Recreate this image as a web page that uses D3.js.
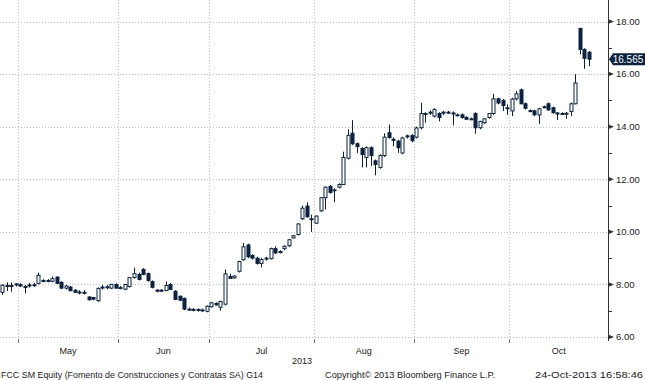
<!DOCTYPE html>
<html>
<head>
<meta charset="utf-8">
<script src="https://cdn.jsdelivr.net/npm/d3@7"></script>
<style>
  body { margin: 0; background: #fff; }
  svg { display: block; font-family: 'Liberation Sans', Arial, sans-serif; }
</style>
</head>
<body>
<svg id="chart" width="645" height="380"></svg>
<script>
'use strict'

// Month labels and axis ticks
var monthLabels = ['May', 'Jun', 'Jul', 'Aug', 'Sep', 'Oct']
var yearLabel = '2013'
var yTicks = [6, 8, 10, 12, 14, 16, 18]
var yMinor = [7, 9, 11, 13, 15, 17]
var lastPrice = 16.565
var footerLeft = 'FCC SM Equity (Fomento de Construcciones y Contratas SA) G14'
var footerMid = 'Copyright\u00a9 2013 Bloomberg Finance L.P.'
var footerRight = '24-Oct-2013 16:58:46'

// Daily candles [open, high, low, close], one list per month
var apr = [
  [7.70, 8.00, 7.60, 7.97], [7.93, 8.08, 7.75, 7.96], [7.96, 8.08, 7.72, 7.94], [7.98, 8.05, 7.92, 8.02]
]
var may = [
  [8.00, 8.04, 7.90, 7.94], [7.92, 7.98, 7.66, 7.90], [7.96, 8.05, 7.88, 7.98], [7.98, 8.06, 7.90, 7.99],
  [8.04, 8.45, 8.00, 8.35], [8.14, 8.20, 8.08, 8.15], [8.14, 8.20, 8.08, 8.15], [8.12, 8.30, 8.08, 8.22],
  [8.28, 8.30, 8.02, 8.04], [8.08, 8.12, 7.82, 7.86], [7.86, 7.98, 7.80, 7.94], [7.90, 7.94, 7.74, 7.76],
  [7.78, 7.82, 7.68, 7.70], [7.70, 7.78, 7.62, 7.71], [7.70, 7.78, 7.62, 7.69], [7.52, 7.56, 7.38, 7.42],
  [7.50, 7.52, 7.40, 7.44], [7.38, 7.88, 7.34, 7.85], [7.90, 7.98, 7.80, 7.90], [7.90, 7.98, 7.82, 7.91],
  [7.86, 8.02, 7.82, 8.00], [8.00, 8.04, 7.84, 7.86]
]
var jun = [
  [7.88, 7.94, 7.82, 7.88], [7.82, 8.02, 7.78, 8.00], [7.92, 8.28, 7.88, 8.26], [8.26, 8.64, 8.22, 8.41],
  [8.38, 8.45, 8.15, 8.19], [8.57, 8.62, 8.35, 8.38], [8.41, 8.45, 8.10, 8.15], [8.11, 8.15, 7.85, 7.89],
  [7.77, 7.82, 7.70, 7.78], [7.78, 7.82, 7.72, 7.76], [7.77, 8.11, 7.74, 7.96], [8.00, 8.05, 7.78, 7.81],
  [7.74, 7.78, 7.40, 7.43], [7.55, 7.58, 7.36, 7.40], [7.47, 7.50, 7.02, 7.06], [7.06, 7.12, 7.00, 7.05],
  [7.05, 7.10, 6.98, 7.04], [7.04, 7.08, 6.96, 7.05], [7.02, 7.08, 6.96, 7.03], [6.98, 7.20, 6.94, 7.17]
]
var jul = [
  [7.15, 7.34, 7.12, 7.30], [7.28, 7.32, 7.20, 7.22], [7.13, 7.38, 7.00, 7.35], [7.25, 8.57, 7.20, 8.40],
  [8.30, 8.40, 8.20, 8.23], [8.25, 8.35, 8.22, 8.32], [8.50, 8.90, 8.45, 8.87], [8.94, 9.58, 8.90, 9.43],
  [9.50, 9.55, 9.00, 9.05], [9.10, 9.15, 8.95, 9.00], [9.00, 9.05, 8.75, 8.80], [8.80, 9.00, 8.65, 8.95],
  [8.98, 9.05, 8.90, 9.00], [8.98, 9.40, 8.95, 9.36], [9.36, 9.45, 9.15, 9.20], [9.22, 9.30, 9.18, 9.25],
  [9.36, 9.48, 9.30, 9.45], [9.47, 9.72, 9.42, 9.70], [9.77, 9.88, 9.74, 9.85], [9.90, 10.32, 9.86, 10.30],
  [10.50, 11.00, 10.45, 10.90], [10.98, 11.13, 10.55, 10.57], [10.50, 10.65, 10.00, 10.50]
]
var aug = [
  [10.33, 10.62, 10.30, 10.60], [10.80, 11.32, 10.75, 11.30], [11.30, 11.72, 10.85, 11.70], [11.73, 11.78, 11.45, 11.50],
  [11.58, 11.65, 11.13, 11.60], [11.70, 11.85, 11.65, 11.80], [11.80, 13.05, 11.78, 12.83], [12.80, 13.90, 12.75, 13.67],
  [13.75, 14.25, 13.30, 13.35], [13.35, 13.40, 13.00, 13.24], [13.17, 13.22, 12.45, 12.94], [12.83, 13.25, 12.45, 13.20],
  [13.20, 13.25, 12.50, 12.90], [12.70, 12.75, 12.15, 12.56], [12.45, 12.95, 12.40, 12.90], [12.90, 13.75, 12.85, 13.60],
  [13.77, 14.08, 13.55, 13.58], [13.52, 13.60, 13.25, 13.48], [13.45, 13.50, 13.00, 13.20], [13.00, 13.62, 12.95, 13.57],
  [13.62, 13.70, 13.55, 13.65], [13.66, 13.72, 13.40, 13.47]
]
var sep = [
  [13.60, 14.00, 13.55, 13.95], [13.96, 14.90, 13.90, 14.50], [14.50, 14.55, 14.15, 14.48], [14.52, 14.62, 14.45, 14.55],
  [14.40, 14.70, 14.35, 14.65], [14.50, 14.55, 14.20, 14.35], [14.53, 14.60, 14.45, 14.55], [14.54, 14.60, 14.48, 14.55],
  [14.52, 14.58, 14.05, 14.52], [14.45, 14.50, 14.40, 14.45], [14.45, 14.50, 14.30, 14.35], [14.35, 14.40, 14.25, 14.28],
  [14.30, 14.35, 14.25, 14.30], [14.50, 14.55, 13.73, 13.96], [13.96, 14.22, 13.90, 14.20], [14.15, 14.32, 14.10, 14.30],
  [14.35, 14.52, 14.30, 14.50], [14.50, 15.25, 14.45, 15.06], [15.06, 15.10, 14.85, 14.90], [15.00, 15.05, 14.60, 14.80],
  [14.70, 14.85, 14.45, 14.72]
]
var oct = [
  [14.60, 15.10, 14.40, 15.05], [15.06, 15.35, 15.00, 15.25], [15.40, 15.45, 14.85, 14.87], [14.87, 14.92, 14.65, 14.70],
  [14.60, 14.66, 14.55, 14.61], [14.60, 14.65, 14.40, 14.45], [14.45, 14.72, 14.10, 14.68], [14.74, 14.80, 14.70, 14.76],
  [14.87, 14.92, 14.60, 14.64], [14.72, 14.76, 14.50, 14.53], [14.50, 14.56, 14.25, 14.52], [14.50, 14.55, 14.45, 14.50],
  [14.50, 14.56, 14.30, 14.51], [14.58, 14.92, 14.40, 14.87], [14.87, 16.00, 14.85, 15.66], [17.74, 17.74, 16.75, 16.94],
  [16.94, 16.98, 16.20, 16.60], [16.83, 16.88, 16.30, 16.565]
]

var byMonth = [apr, may, jun, jul, aug, sep, oct]
var candles = []
var monthStart = []
byMonth.forEach(function (rows, m) {
  monthStart.push(candles.length)
  rows.forEach(function (r) {
    candles.push({ i: candles.length, o: r[0], h: r[1], l: r[2], c: r[3] })
  })
})

var plotRight = 608
var plotBottom = 338
var navy = '#0c2340'

var svg = d3.select('#chart')
var x = d3.scaleBand().domain(d3.range(candles.length)).range([-0.2, 591.3])
var y = d3.scaleLinear().domain([6, 18]).range([337, 21.5])
var cx = function (i) { return Math.round(x(i) + x.bandwidth() / 2) + 0.5 }

// month boundaries (May..Oct), last one runs to plot edge
var bounds = monthStart.slice(1).map(function (s) { return x(s) })
bounds.push(plotRight)

// grid
var grid = svg.append('g').attr('stroke', '#bdbdbd').attr('stroke-dasharray', '1,2')
grid.selectAll('line.h').data(yTicks).enter().append('line')
  .attr('x1', 0).attr('x2', plotRight)
  .attr('y1', function (d) { return Math.round(y(d)) + 0.5 })
  .attr('y2', function (d) { return Math.round(y(d)) + 0.5 })
grid.selectAll('line.v').data(bounds.slice(0, -1)).enter().append('line')
  .attr('x1', function (d) { return Math.round(d) + 0.5 })
  .attr('x2', function (d) { return Math.round(d) + 0.5 })
  .attr('y1', 0).attr('y2', plotBottom)

// candles
var g = svg.append('g')
g.selectAll('line.wick').data(candles).enter().append('line')
  .attr('x1', function (d) { return cx(d.i) })
  .attr('x2', function (d) { return cx(d.i) })
  .attr('y1', function (d) { return y(d.h) })
  .attr('y2', function (d) { return y(d.l) })
  .attr('stroke', navy).attr('stroke-width', 1)

g.selectAll('rect.body').data(candles).enter().append('rect')
  .attr('x', function (d) { return cx(d.i) - 1.5 })
  .attr('width', 3)
  .attr('y', function (d) { return y(Math.max(d.o, d.c)) })
  .attr('height', function (d) { return Math.max(1, Math.abs(y(d.o) - y(d.c))) })
  .attr('fill', function (d) { return d.c >= d.o ? '#fff' : navy })
  .attr('stroke', navy).attr('stroke-width', 1)

// right axis
var axis = svg.append('g').attr('fill', '#222')
axis.append('line')
  .attr('x1', plotRight + 0.5).attr('x2', plotRight + 0.5)
  .attr('y1', 0).attr('y2', plotBottom + 3)
  .attr('stroke', '#333')
axis.selectAll('path.tick').data(yTicks).enter().append('path')
  .attr('d', function (d) {
    var ty = y(d)
    return 'M' + plotRight + ',' + (ty - 2.5) + 'L' + (plotRight + 6) + ',' + ty + 'L' + plotRight + ',' + (ty + 2.5) + 'Z'
  })
  .attr('fill', '#333')
axis.selectAll('line.minor').data(yMinor).enter().append('line')
  .attr('x1', plotRight).attr('x2', plotRight + 4)
  .attr('y1', function (d) { return Math.round(y(d)) + 0.5 })
  .attr('y2', function (d) { return Math.round(y(d)) + 0.5 })
  .attr('stroke', '#333')
axis.selectAll('text').data(yTicks).enter().append('text')
  .attr('x', plotRight + 8)
  .attr('y', function (d) { return y(d) })
  .attr('dy', '0.35em')
  .attr('font-size', '9.5px')
  .text(function (d) { return d3.format('.2f')(d) })

// last price marker
var ly = y(lastPrice)
svg.append('path')
  .attr('d', 'M' + (plotRight + 1) + ',' + ly + 'L' + (plotRight + 5) + ',' + (ly - 6) + 'L645,' + (ly - 6) +
    'L645,' + (ly + 6) + 'L' + (plotRight + 5) + ',' + (ly + 6) + 'Z')
  .attr('fill', navy)
svg.append('text')
  .attr('x', 628).attr('y', ly).attr('dy', '0.36em')
  .attr('text-anchor', 'middle').attr('fill', '#fff')
  .attr('font-size', '10px')
  .text(d3.format('.3f')(lastPrice))

// bottom month axis
var xa = svg.append('g')
xa.selectAll('line').data(bounds.slice(0, -1)).enter().append('line')
  .attr('x1', function (d) { return Math.round(d) + 0.5 })
  .attr('x2', function (d) { return Math.round(d) + 0.5 })
  .attr('y1', plotBottom + 1).attr('y2', plotBottom + 5)
  .attr('stroke', '#777')
xa.selectAll('text').data(monthLabels).enter().append('text')
  .attr('x', function (d, k) { return (bounds[k] + bounds[k + 1]) / 2 })
  .attr('y', 354)
  .attr('text-anchor', 'middle')
  .attr('font-size', '9px').attr('fill', '#222')
  .text(function (d) { return d })
xa.append('text')
  .attr('x', 302).attr('y', 364)
  .attr('text-anchor', 'middle')
  .attr('font-size', '9px').attr('fill', '#222')
  .text(yearLabel)

// footer
var foot = svg.append('g').attr('font-size', '9px').attr('fill', '#222')
foot.append('text').attr('x', 1).attr('y', 378)
  .attr('textLength', 262).attr('lengthAdjust', 'spacingAndGlyphs').text(footerLeft)
foot.append('text').attr('x', 325).attr('y', 378)
  .attr('textLength', 170).attr('lengthAdjust', 'spacingAndGlyphs').text(footerMid)
foot.append('text').attr('x', 535).attr('y', 378)
  .attr('textLength', 108).attr('lengthAdjust', 'spacingAndGlyphs').text(footerRight)
</script>
</body>
</html>
